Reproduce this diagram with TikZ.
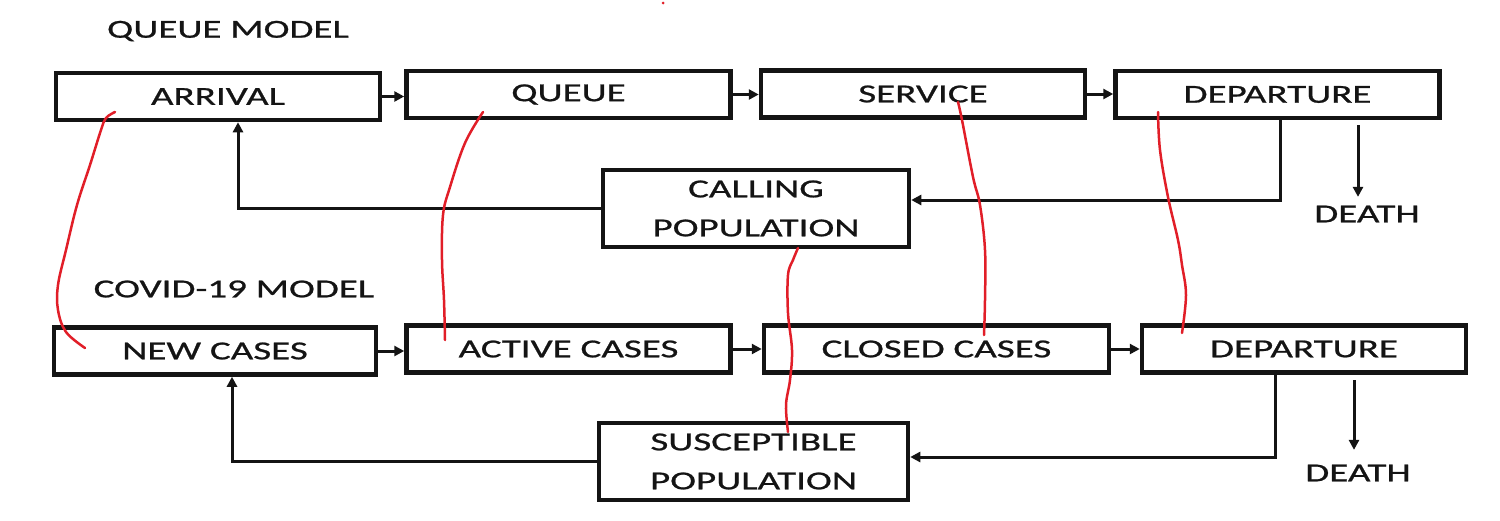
\documentclass[tikz,border=0pt]{standalone}
\usepackage{fontspec}
\setmainfont[FakeStretch=1.5,UprightFeatures={FakeBold=0.8}]{Carlito}
\usetikzlibrary{arrows.meta}
\definecolor{redline}{RGB}{225,30,40}
\definecolor{ink}{RGB}{20,20,20}
\begin{document}
\begin{tikzpicture}[x=1pt,y=-1pt,
  box/.style={draw=ink, line width=4.5pt, minimum width=324pt, minimum height=47pt,
    inner sep=0pt, font=\fontsize{26}{39}\selectfont, text=ink, align=center},
  tallbox/.style={box, minimum width=306pt, minimum height=77pt},
  lbl/.style={font=\fontsize{26}{30}\selectfont, text=ink, inner sep=0pt},
  conn/.style={draw=ink, line width=3pt, -{Triangle[length=10pt,width=10pt]}},
  hand/.style={draw=redline, line width=2.5pt, line cap=round, line join=round}]
\useasboundingbox (0,0) rectangle (1500,520);

% headings
\node[lbl] (qm) at (228,31) {QUEUE MODEL};
\node[lbl] (cm) at (234,289) {COVID-19 MODEL};

% queue model
\node[box] (arr) at (218,96.5) {ARRIVAL};
\node[box] (que) at (568.5,94.5) {QUEUE};
\node[box] (ser) at (923,94) {SERVICE};
\node[box] (dep) at (1277.5,94.5) {DEPARTURE};
\node[tallbox] (cal) at (756,208.5) {CALLING\\POPULATION};
\node[lbl] (death1) at (1367,214) {DEATH};

% covid model
\node[box, minimum width=322pt] (new) at (215,351) {NEW CASES};
\node[box] (act) at (568.5,349) {ACTIVE CASES};
\node[box, minimum width=345pt] (clo) at (936.5,349) {CLOSED CASES};
\node[box] (dep2) at (1304,349) {DEPARTURE};
\node[tallbox, minimum width=309pt] (sus) at (753.5,461.5) {SUSCEPTIBLE\\POPULATION};
\node[lbl] (death2) at (1358,473) {DEATH};

% connectors, queue model
\draw[conn] (arr.east) -- (arr.east -| que.west);
\draw[conn] (que.east) -- (que.east -| ser.west);
\draw[conn] (ser.east) -- (ser.east -| dep.west);
\draw[conn] ([xshift=2.5pt]dep.south) |- ([yshift=8.5pt]cal.east);
\draw[conn] (cal.west) -| ([xshift=20pt]arr.south);
\coordinate (d1) at (1358,125);
\draw[conn, shorten >=8.6pt] (d1) -- (d1 |- death1.north);

% connectors, covid model
\draw[conn] (new.east) -- (new.east -| act.west);
\draw[conn] (act.east) -- (act.east -| clo.west);
\draw[conn] (clo.east) -- (clo.east -| dep2.west);
\draw[conn] ([xshift=-29pt]dep2.south) |- ([yshift=4.5pt]sus.east);
\draw[conn] (sus.west) -| ([xshift=17pt]new.south);
\coordinate (d2) at (1354,380);
\draw[conn, shorten >=14.6pt] (d2) -- (d2 |- death2.north);

% hand-drawn red links
\draw[hand] plot[smooth, tension=0.6] coordinates {(115,112) (106,118) (101,130) (90,165) (77,205) (66,250) (58,285) (58,310) (66,332) (85,348)};
\draw[hand] plot[smooth, tension=0.6] coordinates {(483,112) (465,143) (450,187) (443,215) (442,260) (444,300) (445,340)};
\draw[hand] plot[smooth, tension=0.6] coordinates {(958,102) (962,120) (973,177) (980,205) (985,250) (985,300) (984,335)};
\draw[hand] plot[smooth, tension=0.6] coordinates {(1158,112) (1160,150) (1168,197) (1178,240) (1182,265) (1186,295) (1182,333)};
\draw[hand] plot[smooth, tension=0.6] coordinates {(798,248) (793,260) (788,275) (788,313) (792,350) (790,380) (786,405) (788,432)};
\fill[redline] (663,3) circle (1.5pt);
\end{tikzpicture}
\end{document}
